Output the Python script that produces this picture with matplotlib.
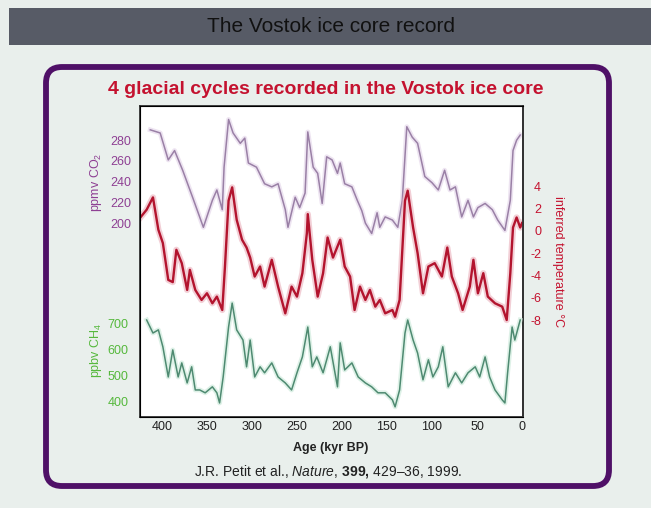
import matplotlib
matplotlib.use("Agg")
import matplotlib.pyplot as plt
from matplotlib.patches import Rectangle, FancyBboxPatch

plt.rcParams['font.family'] = ['Liberation Sans', 'DejaVu Sans']
plt.rcParams['axes.unicode_minus'] = False
plt.rcParams['mathtext.fontset'] = 'custom'
plt.rcParams['mathtext.rm'] = 'Liberation Sans'
plt.rcParams['mathtext.it'] = 'Liberation Sans:italic'
plt.rcParams['mathtext.bf'] = 'Liberation Sans:bold'

# CO2 (ppmv) vs age (kyr BP)
co2_age = [413, 402, 393, 386, 377, 366, 354, 344, 339, 333, 331, 326, 321, 313,
           308, 304, 295, 286, 278, 271, 263, 260, 252, 247, 241, 238, 232, 227,
           222, 217, 211, 205, 202, 197, 189, 183, 178, 174, 167, 161, 158, 152,
           144, 138, 133, 128, 122, 116, 108, 100, 93, 86, 80, 74, 67, 60, 54,
           49, 41, 33, 27, 19, 13, 10, 6, 2]
co2_val = [290, 287, 261, 270, 251, 225, 196, 222, 232, 213, 254, 300, 287, 277,
           282, 258, 254, 238, 235, 238, 213, 196, 225, 215, 229, 288, 254, 248,
           219, 264, 261, 248, 258, 238, 235, 222, 212, 200, 190, 210, 196, 206,
           203, 196, 222, 293, 283, 277, 245, 239, 232, 251, 232, 235, 206, 222,
           206, 215, 219, 213, 203, 193, 222, 270, 280, 285]

# inferred temperature (deg C)
temp_age = [424, 417, 410, 404, 399, 393, 388, 384, 378, 372, 369, 363, 356, 350,
            344, 339, 333, 330, 326, 322, 317, 311, 306, 302, 297, 291, 286, 278,
            271, 263, 256, 250, 244, 239, 238, 233, 227, 221, 216, 210, 202, 197,
            191, 186, 180, 174, 169, 163, 158, 152, 144, 141, 136, 130, 127, 121,
            116, 110, 104, 97, 89, 83, 78, 71, 66, 58, 54, 49, 43, 38, 30, 22, 17,
            13, 10, 6, 2, 0]
temp_val = [1.2, 1.9, 3.0, 0.1, -1.1, -4.4, -4.6, -1.7, -2.9, -5.3, -3.5, -5.3,
            -6.2, -5.6, -6.5, -5.9, -7.1, -3.2, 2.7, 3.9, 1.0, -0.8, -1.5, -2.4,
            -4.1, -3.2, -5.0, -2.6, -5.0, -7.4, -5.0, -5.9, -3.8, -0.2, 1.5, -2.6,
            -5.9, -3.8, -0.6, -2.4, -0.8, -3.2, -4.1, -7.1, -5.0, -6.2, -5.3, -6.8,
            -6.2, -7.4, -7.1, -7.7, -6.2, 2.7, 3.6, 0.3, -2.0, -5.6, -3.2, -2.9,
            -4.1, -1.5, -4.1, -5.6, -7.1, -5.0, -2.6, -5.6, -3.8, -5.9, -6.5, -6.8,
            -8.0, -3.8, 0.3, 1.2, 0.3, 0.7]

# CH4 (ppbv)
ch4_age = [417, 410, 404, 399, 393, 388, 382, 378, 372, 367, 363, 358, 352, 344,
           339, 336, 332, 326, 322, 317, 310, 306, 302, 297, 291, 286, 278, 271,
           263, 256, 250, 244, 238, 233, 228, 221, 213, 205, 202, 197, 189, 182,
           174, 167, 160, 152, 144, 141, 136, 130, 127, 121, 116, 110, 104, 99,
           93, 88, 82, 74, 67, 60, 52, 47, 41, 36, 30, 22, 19, 16, 11, 8, 2]
ch4_val = [715, 665, 677, 612, 496, 600, 496, 550, 473, 535, 446, 446, 435, 458,
           435, 396, 496, 688, 780, 677, 638, 535, 638, 496, 535, 512, 550, 496,
           473, 446, 512, 573, 688, 535, 573, 512, 612, 458, 627, 523, 550, 496,
           473, 458, 435, 435, 408, 381, 446, 665, 715, 638, 588, 485, 562, 496,
           535, 612, 458, 512, 473, 512, 535, 496, 573, 496, 446, 408, 396, 512,
           688, 638, 715]

co2_ticks = [200, 220, 240, 260, 280]
temp_ticks = [-8, -6, -4, -2, 0, 2, 4]
ch4_ticks = [400, 500, 600, 700]
age_ticks = [400, 350, 300, 250, 200, 150, 100, 50, 0]

W, H = 651, 508
fig = plt.figure(figsize=(W / 100, H / 100), dpi=100)
fig.patch.set_facecolor('#e9efec')

# background layer in pixel units
bg = fig.add_axes([0, 0, 1, 1])
bg.set_xlim(0, W)
bg.set_ylim(H, 0)
bg.axis('off')
bg.add_patch(Rectangle((9, 8), W - 9, 37, facecolor='#575b66', edgecolor='none'))
bg.text(331, 27, 'The Vostok ice core record', ha='center', va='center',
        fontsize=15, color='#111111',
        family=['Liberation Sans Narrow', 'Liberation Sans'])
bg.add_patch(FancyBboxPatch((46, 67), 563, 419, boxstyle='round,pad=0,rounding_size=16',
                            facecolor='none', edgecolor='#4f1067', linewidth=4.2))
bg.text(326, 90, '4 glacial cycles recorded in the Vostok ice core', ha='center',
        va='center', fontsize=14, fontweight='bold', color='#c4122f',
        family=['Liberation Sans Narrow', 'Liberation Sans'])
bg.text(331, 448, 'Age (kyr BP)', ha='center', va='center', fontsize=9,
        fontweight='bold', color='#222222')
bg.text(328, 472, r'J.R. Petit et al., $\mathit{Nature,}\,\mathbf{399,}\,$429–36, 1999.',
        ha='center', va='center', fontsize=10, color='#222222')
bg.text(96, 182, 'ppmv CO$_2$', rotation=90, ha='center', va='center',
        fontsize=9, color='#8e3f93')
bg.text(96, 350, 'ppbv CH$_4$', rotation=90, ha='center', va='center',
        fontsize=9, color='#55b83c')
bg.text(558, 262, 'inferred temperature °C', rotation=270, ha='center', va='center',
        fontsize=9, color='#c4122f')

rect = [140 / W, 1 - 417 / H, 383 / W, 311 / H]

ax = fig.add_axes(rect)
ax.set_facecolor('white')
ax.set_xlim(424.4, -1.1)
ax.set_ylim(13, 313)
ax.plot(co2_age, co2_val, color='#e2d2e8', lw=3.5, alpha=0.6, solid_joinstyle='round')
ax.plot(co2_age, co2_val, color='#9a80a6', lw=1.1)
ax.set_yticks(co2_ticks)
ax.tick_params(axis='y', length=0, pad=6.5, labelsize=9, labelcolor='#8e3f93')
ax.set_xticks(age_ticks)
ax.tick_params(axis='x', length=0, pad=3, labelsize=9, labelcolor='#222222')
for s in ax.spines.values():
    s.set_color('#333333')
    s.set_linewidth(1.3)

axt = ax.twinx()
axt.set_ylim(-16.7, 11.2)
axt.plot(temp_age, temp_val, color='#eab0bb', lw=4.5, alpha=0.6, solid_joinstyle='round')
axt.plot(temp_age, temp_val, color='#b3142e', lw=1.7)
axt.set_yticks(temp_ticks)
axt.tick_params(axis='y', length=0, pad=13, labelsize=9, labelcolor='#c4122f')
for lab in axt.get_yticklabels():
    lab.set_horizontalalignment('right')
axt.spines['right'].set_color('#333333')
axt.spines['right'].set_linewidth(1.3)

axc = ax.twinx()
axc.set_ylim(342, 1538)
axc.plot(ch4_age, ch4_val, color='#c8e8d8', lw=3.5, alpha=0.6, solid_joinstyle='round')
axc.plot(ch4_age, ch4_val, color='#4e8a71', lw=1.1)
axc.yaxis.set_ticks_position('left')
axc.set_yticks(ch4_ticks)
axc.tick_params(axis='y', length=0, pad=8.5, labelsize=9, labelcolor='#55b83c')
for s in axc.spines.values():
    s.set_visible(False)

fig.savefig('out.png', dpi=100, facecolor=fig.get_facecolor())
